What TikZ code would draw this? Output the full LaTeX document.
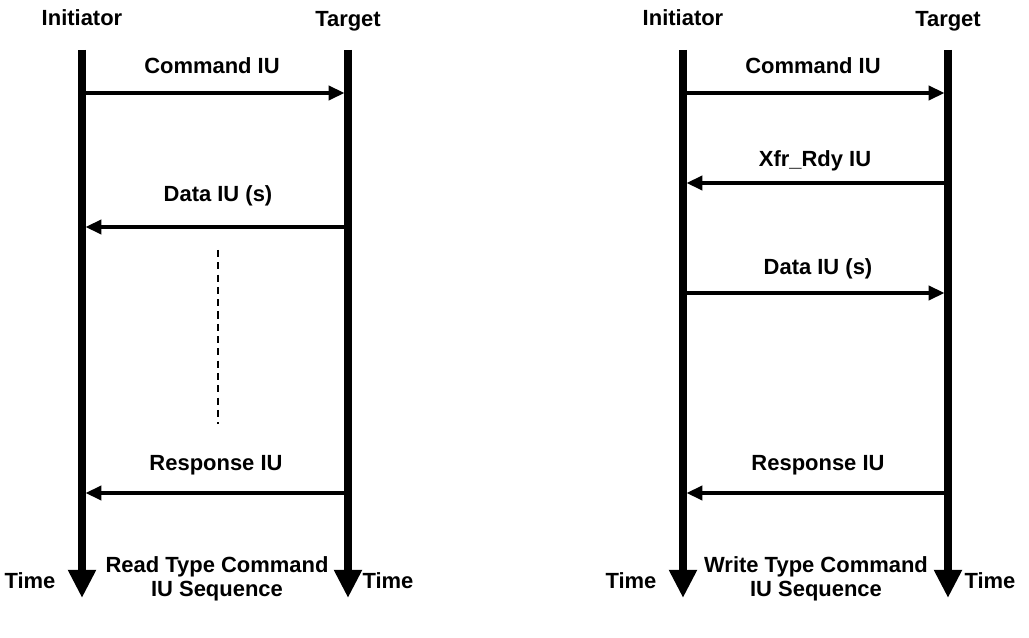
\documentclass[tikz,border=0pt]{standalone}
\usepackage{fontspec}
\setmainfont{Liberation Sans}
\usetikzlibrary{arrows.meta}
\begin{document}
\begin{tikzpicture}[x=0.02cm,y=-0.02cm,
    lbl/.style={font=\bfseries\fontsize{12.5}{13.5}\selectfont,inner sep=0pt,align=center},
    lifeline/.style={line width=4pt,-{Triangle[length=16pt,width=15pt]}},
    msg/.style={line width=2pt,-{Triangle[length=9pt,width=8pt]},shorten >=2pt,shorten <=2pt}]
    \useasboundingbox (0,0) rectangle (1029,638);

    % Read sequence: lifelines
    \node[lbl] (rIni) at (82,18) {Initiator};
    \node[lbl] (rTgt) at (348,21) {Target};
    \coordinate (rIniTop) at (82,50);
    \coordinate (rIniBot) at (82,598);
    \coordinate (rTgtTop) at (348,50);
    \coordinate (rTgtBot) at (348,598);
    \draw[lifeline] (rIniTop) -- (rIniBot);
    \draw[lifeline] (rTgtTop) -- (rTgtBot);
    \node[lbl] (rTimeL) at (30,581) {Time};
    \node[lbl] (rTimeR) at (388,581) {Time};
    \node[lbl] (rCap) at (217,579) {Read Type Command\\IU Sequence};

    % Command IU
    \node[lbl] (rCmd) at (212,66) {Command IU};
    \coordinate (rCmdA) at (82,93);
    \coordinate (rCmdB) at (348,93);
    \draw[msg] (rCmdA) -- (rCmdB);

    % Data IU (s)
    \node[lbl] (rData) at (218,196) {Data IU (s)};
    \coordinate (rDataA) at (348,227);
    \coordinate (rDataB) at (82,227);
    \draw[msg] (rDataA) -- (rDataB);

    % more data, not drawn
    \coordinate (rDotsA) at (218,250);
    \coordinate (rDotsB) at (218,424);
    \draw[line width=0.8pt,dash pattern=on 4pt off 3pt] (rDotsA) -- (rDotsB);

    % Response IU
    \node[lbl] (rResp) at (216,465) {Response IU};
    \coordinate (rRespA) at (348,493);
    \coordinate (rRespB) at (82,493);
    \draw[msg] (rRespA) -- (rRespB);

    % Write sequence: lifelines
    \node[lbl] (wIni) at (683,18) {Initiator};
    \node[lbl] (wTgt) at (948,21) {Target};
    \coordinate (wIniTop) at (683,50);
    \coordinate (wIniBot) at (683,598);
    \coordinate (wTgtTop) at (948,50);
    \coordinate (wTgtBot) at (948,598);
    \draw[lifeline] (wIniTop) -- (wIniBot);
    \draw[lifeline] (wTgtTop) -- (wTgtBot);
    \node[lbl] (wTimeL) at (631,581) {Time};
    \node[lbl] (wTimeR) at (990,581) {Time};
    \node[lbl] (wCap) at (816,579) {Write Type Command\\IU Sequence};

    % Command IU
    \node[lbl] (wCmd) at (813,66) {Command IU};
    \coordinate (wCmdA) at (683,93);
    \coordinate (wCmdB) at (948,93);
    \draw[msg] (wCmdA) -- (wCmdB);

    % Xfr_Rdy IU
    \node[lbl] (wXfr) at (815,161) {Xfr\_Rdy IU};
    \coordinate (wXfrA) at (948,183);
    \coordinate (wXfrB) at (683,183);
    \draw[msg] (wXfrA) -- (wXfrB);

    % Data IU (s)
    \node[lbl] (wData) at (818,269) {Data IU (s)};
    \coordinate (wDataA) at (683,293);
    \coordinate (wDataB) at (948,293);
    \draw[msg] (wDataA) -- (wDataB);

    % Response IU
    \node[lbl] (wResp) at (818,465) {Response IU};
    \coordinate (wRespA) at (948,493);
    \coordinate (wRespB) at (683,493);
    \draw[msg] (wRespA) -- (wRespB);
\end{tikzpicture}
\end{document}
